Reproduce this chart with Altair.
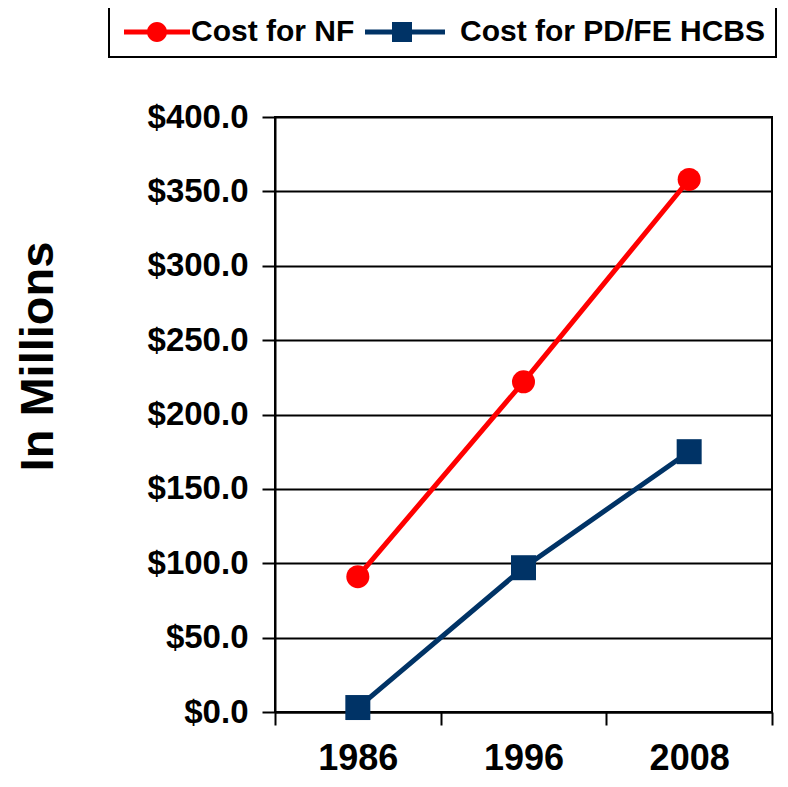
import altair as alt
import pandas as pd

years = ["1986", "1996", "2008"]
nf_cost = [91, 222, 358]
hcbs_cost = [3, 97, 175]
series_names = ["Cost for NF", "Cost for PD/FE HCBS"]
colors = ["#FF0000", "#003366"]

rows = []
for yr, v in zip(years, nf_cost):
    rows.append({"year": yr, "value": v, "series": series_names[0]})
for yr, v in zip(years, hcbs_cost):
    rows.append({"year": yr, "value": v, "series": series_names[1]})
df = pd.DataFrame(rows)

# legend symbols: line + marker drawn as one filled path
circle_sym = ("M-1,-0.25 L1.4,-0.25 L1.4,0.25 L-1,0.25 Z "
              "M3.2,-0.25 L5.6,-0.25 L5.6,0.25 L3.2,0.25 Z "
              "M3.3,0 A1,1 0 1,1 1.3,0 A1,1 0 1,1 3.3,0 Z")
square_sym = ("M-3.8,-0.25 L-1.1,-0.25 L-1.1,0.25 L-3.8,0.25 Z "
              "M0.9,-0.25 L4.2,-0.25 L4.2,0.25 L0.9,0.25 Z "
              "M-1.1,-1 L0.9,-1 L0.9,1 L-1.1,1 Z")

FONT = "Liberation Sans"

x_enc = alt.X(
    "year:N", sort=years,
    scale=alt.Scale(paddingInner=0, paddingOuter=0),
    axis=alt.Axis(title=None, labelAngle=0, tickBand="extent", labelFontSize=36,
                  labelFontWeight="bold", labelPadding=44, labelBaseline="alphabetic",
                  tickSize=13, tickWidth=2,
                  domainWidth=2, domainColor="black", tickColor="black", grid=False,
                  labelColor="black", labelFont=FONT),
)
y_enc = alt.Y(
    "value:Q",
    scale=alt.Scale(domain=[0, 400]),
    axis=alt.Axis(values=list(range(0, 401, 50)), format="$.1f", title="In Millions",
                  titleFontSize=47, titleFontWeight="bold", titleFont=FONT, titleColor="black",
                  titleX=-237, titleY=239, titleAngle=270, titleAlign="center",
                  titleBaseline="middle",
                  labelFontSize=33, labelFontWeight="bold", labelFont=FONT, labelColor="black",
                  labelPadding=14, tickSize=13, tickWidth=2, tickColor="black",
                  domainWidth=2, domainColor="black",
                  grid=True, gridColor="black", gridWidth=2, gridOpacity=1),
)
color_scale = alt.Scale(domain=series_names, range=colors)

leg = alt.Legend(title=None, orient="none", legendX=-166, legendY=-110, direction="horizontal",
                 labelFontSize=30, labelFontWeight="bold", labelFont=FONT, labelColor="black",
                 labelLimit=500,
                 symbolSize=400, symbolStrokeWidth=0, labelOffset=42, columnPadding=10,
                 padding=10, strokeColor="black", symbolOpacity=1)
color_enc = alt.Color("series:N", scale=color_scale, legend=leg)

base = alt.Chart(df)

lines = base.mark_line(strokeWidth=5).encode(x=x_enc, y=y_enc, color=color_enc)
circles = base.transform_filter(alt.datum.series == series_names[0]).mark_point(
    shape="circle", filled=True, size=530, opacity=1
).encode(x=x_enc, y=y_enc, color=color_enc)
squares = base.transform_filter(alt.datum.series == series_names[1]).mark_point(
    shape="square", filled=True, size=625, opacity=1
).encode(x=x_enc, y=y_enc, color=color_enc)

legend_layer = base.transform_filter("datum.value < 0").mark_point(filled=True, opacity=1).encode(
    x=x_enc, y=y_enc,
    color=color_enc,
    shape=alt.Shape("series:N", scale=alt.Scale(domain=series_names, range=[circle_sym, square_sym]),
                    legend=leg),
)

chart = alt.layer(legend_layer, lines, circles, squares).properties(
    width=497, height=595,
    autosize=alt.AutoSizeParams(type="none"),
    padding={"left": 267, "top": 109, "right": 8, "bottom": 64},
).configure_view(stroke="black", strokeWidth=2).configure_legend(strokeWidth=2)

chart.save("out.html", embed_options={"renderer": "svg", "actions": False})
